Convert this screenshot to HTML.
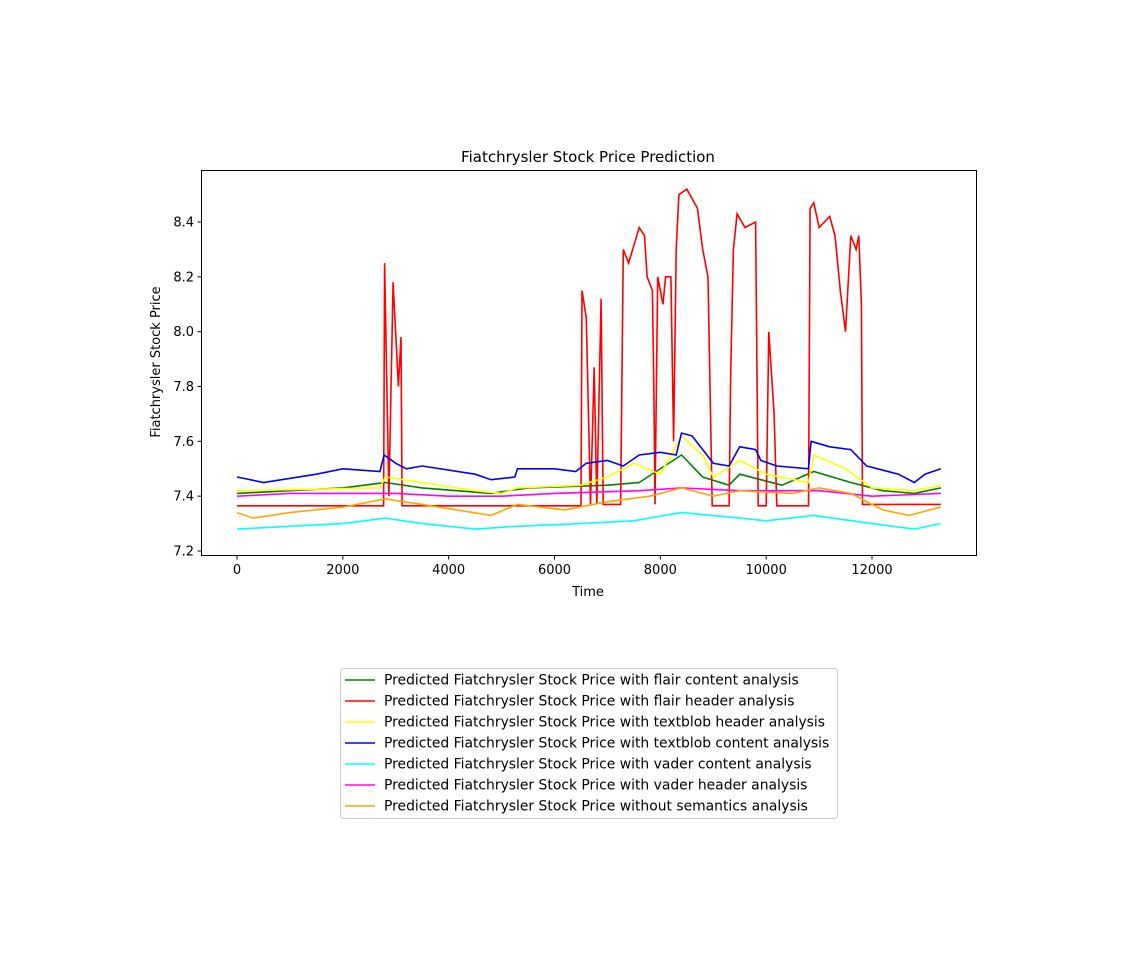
<!DOCTYPE html>
<html><head><meta charset="utf-8"><style>
body{margin:0;background:#fff;}
svg{display:block;font-family:"DejaVu Sans","Liberation Sans",sans-serif;}
</style></head><body>
<svg id="chart" width="1126" height="969" xmlns="http://www.w3.org/2000/svg">
<rect width="1126" height="969" fill="#fff"/>
<text x="588" y="162" font-size="15" text-anchor="middle">Fiatchrysler Stock Price Prediction</text>
<text x="588" y="596" font-size="13" text-anchor="middle">Time</text>
<text x="0" y="0" font-size="13" text-anchor="middle" transform="translate(160,362) rotate(-90)">Fiatchrysler Stock Price</text>
<g id="plot"></g>
<g id="axes"></g>
<g id="legend"></g>
</svg>
<script>
const xTicks=[0,2000,4000,6000,8000,10000,12000];
const yTicks=[7.2,7.4,7.6,7.8,8.0,8.2,8.4];
const seriesNames=["Predicted Fiatchrysler Stock Price with flair content analysis","Predicted Fiatchrysler Stock Price with flair header analysis","Predicted Fiatchrysler Stock Price with textblob header analysis","Predicted Fiatchrysler Stock Price with textblob content analysis","Predicted Fiatchrysler Stock Price with vader content analysis","Predicted Fiatchrysler Stock Price with vader header analysis","Predicted Fiatchrysler Stock Price without semantics analysis"];
const seriesColors=["green","red","yellow","blue","cyan","magenta","orange"];
const greenT=[0,2000,2800,3500,4800,5500,7000,7600,8400,8800,9300,9500,10300,10900,11600,12200,12800,13300];
const greenV=[7.41,7.43,7.45,7.43,7.41,7.43,7.44,7.45,7.55,7.47,7.44,7.48,7.44,7.49,7.45,7.42,7.41,7.43];
const redT=[0,2770,2790,2870,2950,3050,3100,3120,6500,6520,6600,6680,6750,6800,6880,6920,7250,7300,7400,7600,7700,7750,7850,7880,7900,7950,8050,8100,8200,8250,8300,8350,8500,8700,8800,8900,8980,9300,9330,9380,9450,9600,9800,9850,10000,10050,10150,10200,10800,10830,10900,11000,11200,11300,11400,11500,11600,11700,11750,11800,11820,13300];
const redV=[7.365,7.365,8.25,7.4,8.18,7.8,7.98,7.365,7.365,8.15,8.05,7.37,7.87,7.37,8.12,7.37,7.37,8.3,8.25,8.38,8.35,8.2,8.15,7.75,7.37,8.2,8.1,8.2,8.2,7.6,8.3,8.5,8.52,8.45,8.3,8.2,7.365,7.365,7.85,8.3,8.43,8.38,8.4,7.365,7.365,8.0,7.7,7.365,7.365,8.45,8.47,8.38,8.42,8.35,8.15,8.0,8.35,8.3,8.35,8.1,7.37,7.37];
const yellowT=[0,2700,2800,3500,4500,5000,5300,6500,7000,7500,8000,8400,8800,9000,9500,10000,10800,10900,11500,12000,12800,13300];
const yellowV=[7.42,7.43,7.47,7.45,7.42,7.41,7.43,7.44,7.47,7.52,7.48,7.62,7.55,7.47,7.53,7.48,7.45,7.55,7.5,7.43,7.42,7.44];
const blueT=[0,500,1500,2000,2700,2780,3000,3200,3500,4500,4800,5250,5300,6000,6400,6600,7000,7300,7600,8000,8300,8400,8600,8800,9000,9300,9500,9800,9900,10200,10800,10850,11200,11600,11900,12500,12800,13000,13300];
const blueV=[7.47,7.45,7.48,7.5,7.49,7.55,7.52,7.5,7.51,7.48,7.46,7.47,7.5,7.5,7.49,7.52,7.53,7.51,7.55,7.56,7.55,7.63,7.62,7.57,7.52,7.51,7.58,7.57,7.53,7.51,7.5,7.6,7.58,7.57,7.51,7.48,7.45,7.48,7.5];
const cyanT=[0,1000,2000,2800,3500,4500,5300,6500,7500,8400,9500,10000,10900,12000,12800,13300];
const cyanV=[7.28,7.29,7.3,7.32,7.3,7.28,7.29,7.3,7.31,7.34,7.32,7.31,7.33,7.3,7.28,7.3];
const magentaT=[0,1000,3000,4000,5000,6000,7600,8400,9500,11000,12000,13300];
const magentaV=[7.4,7.41,7.41,7.4,7.4,7.41,7.42,7.43,7.42,7.42,7.4,7.41];
const orangeT=[0,300,1000,2000,2800,3500,4800,5300,6200,7000,7800,8400,9000,9500,10500,11000,11600,12200,12700,13300];
const orangeV=[7.34,7.32,7.34,7.36,7.39,7.37,7.33,7.37,7.35,7.38,7.4,7.43,7.4,7.42,7.41,7.43,7.41,7.35,7.33,7.36];
const seriesT=[greenT,redT,yellowT,blueT,cyanT,magentaT,orangeT];
const seriesV=[greenV,redV,yellowV,blueV,cyanV,magentaV,orangeV];

const NS="http://www.w3.org/2000/svg";
const L=201,R=976,T=170,B=555;
const xs=t=>237+t*(872-237)/12000;
const ys=v=>551-(v-7.2)*(551-222)/1.2;
function mk(tag,attrs,parent){const e=document.createElementNS(NS,tag);for(const k in attrs)e.setAttribute(k,attrs[k]);parent.appendChild(e);return e;}
const plot=document.getElementById('plot');
const axes=document.getElementById('axes');
const legend=document.getElementById('legend');
const drawOrder=[0,1,2,3,4,5,6];
drawOrder.forEach(i=>{
  const d=seriesT[i].map((t,j)=>(j?'L':'M')+xs(t).toFixed(1)+','+ys(seriesV[i][j]).toFixed(1)).join('');
  const p=mk('path',{d:d,fill:'none',stroke:seriesColors[i],'stroke-width':1.6},plot);
  
  
});
const frame=mk('rect',{x:L+0.5,y:T+0.5,width:R-L,height:B-T,fill:'none',stroke:'#000','stroke-width':1},axes);


xTicks.forEach(t=>{
  const x=xs(t);
  mk('line',{x1:x,x2:x,y1:B+0.5,y2:B+4.5,stroke:'#000'},axes);
  const tx=mk('text',{x:x,y:B+19,'font-size':13,'text-anchor':'middle'},axes);
  tx.textContent=t;
  
  
});
yTicks.forEach(v=>{
  const y=ys(v);
  mk('line',{x1:L-3.5,x2:L+0.5,y1:y,y2:y,stroke:'#000'},axes);
  const tx=mk('text',{x:L-7,y:y+4.5,'font-size':13,'text-anchor':'end'},axes);
  tx.textContent=v.toFixed(1);
  
  
});
const lb=mk('rect',{x:340.5,y:668.5,width:497,height:150,rx:3,fill:'#fff',stroke:'#ccc'},legend);


seriesNames.forEach((n,i)=>{
  const y=680+i*21;
  const g=mk('g',{},legend);
  
  
  mk('line',{x1:345,x2:375,y1:y,y2:y,stroke:seriesColors[i],'stroke-width':1.6},g);
  const tx=mk('text',{x:384,y:y+4.5,'font-size':13.9},g);
  tx.textContent=n;
});
</script>
</body></html>
